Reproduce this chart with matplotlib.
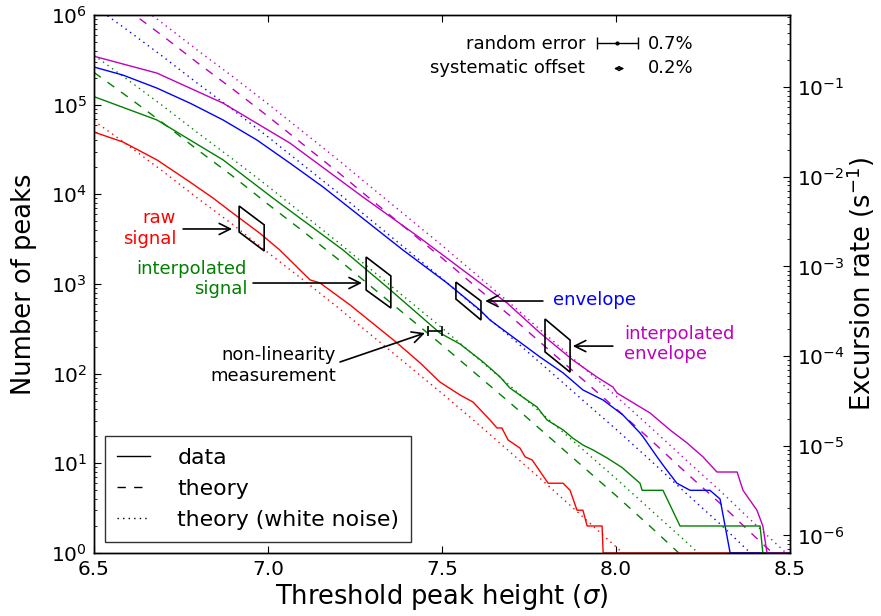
#!/usr/bin/env python3
"""Peak-count statistics vs. threshold for the raw / interpolated signal and envelope."""

import matplotlib
matplotlib.use("Agg")
import matplotlib.pyplot as plt
from matplotlib.patches import Polygon

# ── observation time (converts counts to excursion rate) ───────────
T_OBS = 1.57e6  # s

# ── theory curves, sampled every 0.1 sigma ─────────────────────────
THEORY_SIGMA = [6.5, 6.6, 6.7, 6.8, 6.9, 7.0, 7.1, 7.2, 7.3, 7.4, 7.5,
                7.6, 7.7, 7.8, 7.9, 8.0, 8.1, 8.2, 8.3, 8.4, 8.5]

RAW_WHITE = [66100, 34700, 17800, 8910, 4570, 2240, 1120, 550, 263, 126,
             60.3, 28.2, 12.9, 5.89, 2.63, 1.17, 0.52, 0.2, 0.1, 0.05, 0.02]
INTERP_THEORY = [229000, 120000, 61700, 30900, 15800, 7760, 3890, 1910, 912,
                 437, 209, 97.7, 45.7, 20.9, 9.55, 4.37, 1.95, 0.85, 0.4,
                 0.2, 0.1]
INTERP_WHITE = [355000, 186000, 95500, 47900, 24500, 12300, 6030, 2950, 1410,
                676, 324, 151, 70.8, 32.4, 14.8, 6.76, 3.02, 1.35, 0.59,
                0.25, 0.1]
ENV_WHITE = [1.26e6, 661000, 339000, 170000, 87100, 43700, 21400, 10500,
             5010, 2400, 1150, 537, 251, 115, 52.5, 24.0, 10.7, 4.68, 2.09,
             0.89, 0.4]
IENV_THEORY = [2.14e6, 1.12e6, 575000, 288000, 148000, 74100, 36300, 17800,
               8510, 4070, 1950, 912, 427, 195, 89.1, 40.7, 18.2, 7.94, 3.55,
               1.51, 0.66]
IENV_WHITE = [2.95e6, 1.55e6, 794000, 398000, 204000, 102000, 50100, 24500,
              11700, 5620, 2690, 1260, 589, 269, 123, 56.2, 25.1, 11.0, 4.90,
              2.09, 0.91]

# ── measured cumulative counts ─────────────────────────────────────
RAW_X = [6.500, 6.583, 6.681, 6.776, 6.842, 6.899, 6.977, 7.034, 7.121,
         7.149, 7.236, 7.371, 7.437, 7.494, 7.552, 7.589, 7.638, 7.658,
         7.672, 7.690, 7.724, 7.739, 7.759, 7.773, 7.805, 7.848, 7.868,
         7.888, 7.905, 7.917, 7.960, 7.963, 8.500]
RAW_N = [49500, 38400, 24200, 13700, 9100, 6170, 3670, 2390, 1110,
         1030, 583, 220, 132, 80.7, 57.8, 48.3, 30.4, 24.8,
         24.8, 18.2, 14.8, 11.8, 10.9, 9.1, 6, 6, 5,
         3, 3, 2, 2, 1, 1]

INTERP_X = [6.500, 6.681, 6.776, 6.871, 7.014, 7.216, 7.342, 7.494, 7.552,
            7.618, 7.667, 7.695, 7.744, 7.773, 7.802, 7.848, 7.876, 7.905,
            7.934, 7.974, 8.017, 8.069, 8.075, 8.135, 8.184, 8.414, 8.422,
            8.500]
INTERP_N = [123000, 67500, 40400, 24200, 9100, 2390, 925, 284, 214,
            135, 91.8, 69.2, 50.8, 42.5, 30.4, 23.6, 19.1, 16.0,
            14.1, 11.5, 9, 6, 5, 5, 2, 2, 1,
            1]

ENV_X = [6.500, 6.583, 6.681, 6.776, 6.871, 6.968, 7.063, 7.158, 7.388,
         7.514, 7.609, 7.638, 7.704, 7.782, 7.848, 7.905, 7.963, 8.020,
         8.069, 8.078, 8.118, 8.141, 8.175, 8.213, 8.270, 8.299, 8.328,
         8.500]
ENV_N = [263000, 214000, 153000, 104000, 67500, 40400, 22300, 12100, 2390,
         1030, 513, 396, 256, 153, 102, 65.8, 50.8, 34.6,
         21.8, 19.7, 11.8, 8.9, 6, 5, 5, 4, 1,
         1]

IENV_X = [6.500, 6.681, 6.871, 7.063, 7.273, 7.437, 7.560, 7.687, 7.782,
          7.876, 7.945, 7.991, 8.003, 8.098, 8.155, 8.204, 8.250, 8.290,
          8.348, 8.365, 8.405, 8.422, 8.434, 8.500]
IENV_N = [347000, 225000, 104000, 37300, 9330, 3260, 1430, 614, 284,
          142, 91.8, 71.0, 60.8, 36.4, 23.6, 16.9, 11.8, 8,
          8, 5, 3, 2, 1, 1]

# ── uncertainty boxes: x range, top edge (l, r), bottom edge (l, r) ─
BOX_X = [(6.917, 6.989), (7.282, 7.353), (7.540, 7.612), (7.796, 7.868)]
BOX_TOP = [(7410, 4570), (2000, 1230), (1050, 646), (407, 237)]
BOX_BOTTOM = [(3800, 2340), (857, 540), (680, 397), (175, 104)]

# non-linearity measurement (horizontal error bar)
NONLIN_X, NONLIN_XERR, NONLIN_N = 7.48, 0.02, 300

COLOURS = {"raw": "#ff0000", "interp": "#008000",
           "env": "#0000ff", "ienv": "#bf00bf"}

plt.rcParams["font.family"] = "DejaVu Sans"
plt.rcParams["mathtext.fontset"] = "dejavusans"
plt.rcParams["axes.unicode_minus"] = False

DOTTED = (0, (1, 3))
DASHED = (0, (6, 6))


def draw():
    fig = plt.figure(figsize=(8.81, 6.16), dpi=100, facecolor="white")
    ax = fig.add_axes([0.1067, 0.1023, 0.7900, 0.8733])

    # ── theory curves ──────────────────────────────────────────────
    lw = 1.0
    ax.plot(THEORY_SIGMA, RAW_WHITE, color=COLOURS["raw"], lw=lw, ls=DOTTED)
    ax.plot(THEORY_SIGMA, INTERP_THEORY, color=COLOURS["interp"], lw=lw, ls=DASHED)
    ax.plot(THEORY_SIGMA, INTERP_WHITE, color=COLOURS["interp"], lw=lw, ls=DOTTED)
    ax.plot(THEORY_SIGMA, ENV_WHITE, color=COLOURS["env"], lw=lw, ls=DOTTED)
    ax.plot(THEORY_SIGMA, IENV_THEORY, color=COLOURS["ienv"], lw=lw, ls=DASHED)
    ax.plot(THEORY_SIGMA, IENV_WHITE, color=COLOURS["ienv"], lw=lw, ls=DOTTED)

    # ── measured counts (drawn last so they sit on top) ────────────
    ax.plot(RAW_X, RAW_N, color=COLOURS["raw"], lw=lw)
    ax.plot(ENV_X, ENV_N, color=COLOURS["env"], lw=lw)
    ax.plot(INTERP_X, INTERP_N, color=COLOURS["interp"], lw=lw)
    ax.plot(IENV_X, IENV_N, color=COLOURS["ienv"], lw=lw)

    # ── uncertainty parallelograms ─────────────────────────────────
    for (x0, x1), (t0, t1), (b0, b1) in zip(BOX_X, BOX_TOP, BOX_BOTTOM):
        ax.add_patch(Polygon([(x0, t0), (x1, t1), (x1, b1), (x0, b0)],
                             closed=True, fill=False, ec="black", lw=1.2,
                             zorder=4))

    ax.errorbar([NONLIN_X], [NONLIN_N], xerr=[NONLIN_XERR], fmt="none",
                ecolor="black", elinewidth=1.2, capsize=3.5, capthick=1.2,
                zorder=4)

    # ── labels with arrows ─────────────────────────────────────────
    arrow = dict(arrowstyle="->", lw=1.2, color="black", shrinkA=0,
                 shrinkB=0, mutation_scale=20)
    fs = 13
    ax.text(6.736, 4150, "raw\nsignal", color=COLOURS["raw"], fontsize=fs,
            ha="right", va="center", multialignment="right")
    ax.annotate("", xy=(6.897, 4110), xytext=(6.756, 4110), arrowprops=arrow)

    ax.text(6.94, 1140, "interpolated\nsignal", color=COLOURS["interp"],
            fontsize=fs, ha="right", va="center", multialignment="right")
    ax.annotate("", xy=(7.270, 1026), xytext=(6.957, 1026), arrowprops=arrow)

    ax.text(7.195, 123, "non-linearity\nmeasurement", color="black",
            fontsize=fs, ha="right", va="center", multialignment="right")
    ax.annotate("", xy=(7.451, 284), xytext=(7.207, 135), arrowprops=arrow)

    ax.text(7.819, 660, "envelope", color=COLOURS["env"], fontsize=fs,
            ha="left", va="center")
    ax.annotate("", xy=(7.624, 646), xytext=(7.790, 646), arrowprops=arrow)

    ax.text(8.023, 214, "interpolated\nenvelope", color=COLOURS["ienv"],
            fontsize=fs, ha="left", va="center")
    ax.annotate("", xy=(7.876, 203), xytext=(7.991, 203), arrowprops=arrow)

    # ── error budget key ───────────────────────────────────────────
    ax.text(7.911, 418000, "random error", fontsize=fs, ha="right",
            va="baseline")
    ax.errorbar([8.003], [488000], xerr=[0.059], fmt=".", color="black",
                ms=4, elinewidth=1.0, capsize=4, capthick=1.0)
    ax.text(8.092, 418000, "0.7%", fontsize=fs, ha="left", va="baseline")

    ax.text(7.911, 225000, "systematic offset", fontsize=fs, ha="right",
            va="baseline")
    ax.annotate("", xy=(8.024, 253000), xytext=(7.994, 253000),
                arrowprops=dict(arrowstyle="<->", lw=1.0, color="black",
                                shrinkA=0, shrinkB=0, mutation_scale=7))
    ax.text(8.092, 225000, "0.2%", fontsize=fs, ha="left", va="baseline")

    # ── legend ─────────────────────────────────────────────────────
    handles = [plt.Line2D([0], [0], color="black", lw=1.0, ls="-"),
               plt.Line2D([0], [0], color="black", lw=1.0, ls=DASHED),
               plt.Line2D([0], [0], color="black", lw=1.0, ls=DOTTED)]
    leg = ax.legend(handles, ["data", "theory", "theory (white noise)"],
                    loc="lower left", fontsize=15.8, frameon=True,
                    fancybox=False, handlelength=1.5, handletextpad=1.25,
                    labelspacing=0.5, borderpad=0.55, borderaxespad=0.5)
    leg.get_frame().set_edgecolor("black")
    leg.get_frame().set_linewidth(1.0)

    # ── axes ───────────────────────────────────────────────────────
    ax.set_xlim(6.5, 8.5)
    ax.set_ylim(1, 1e6)
    ax.set_yscale("log")
    ax.set_xticks([6.5, 7.0, 7.5, 8.0, 8.5])
    ax.set_xticklabels(["6.5", "7.0", "7.5", "8.0", "8.5"])
    ax.set_xlabel(r"Threshold peak height ($\sigma$)", fontsize=18.5,
                  labelpad=2)
    ax.set_ylabel("Number of peaks", fontsize=18.5, labelpad=10)
    ax.tick_params(which="both", direction="in", top=True, right=False,
                   labelsize=14.5)
    ax.tick_params(which="major", length=5, width=0.8, pad=5)
    ax.tick_params(which="minor", length=2.5, width=0.6)
    ax.tick_params(axis="x", which="minor", bottom=False, top=False)

    rate = ax.twinx()
    rate.set_yscale("log")
    rate.set_ylim(1 / T_OBS, 1e6 / T_OBS)
    rate.set_ylabel(r"Excursion rate (s$^{-1}$)", fontsize=18.5, labelpad=0)
    rate.tick_params(which="both", direction="in", labelsize=14.5)
    rate.tick_params(which="major", length=5, width=0.8, pad=5)
    rate.tick_params(which="minor", length=2.5, width=0.6)
    rate.tick_params(axis="x", labelbottom=False, labeltop=False)

    for a in (ax, rate):
        for s in a.spines.values():
            s.set_linewidth(1.0)

    fig.savefig("out.png", dpi=100, facecolor="white")
    plt.close(fig)


if __name__ == "__main__":
    draw()
